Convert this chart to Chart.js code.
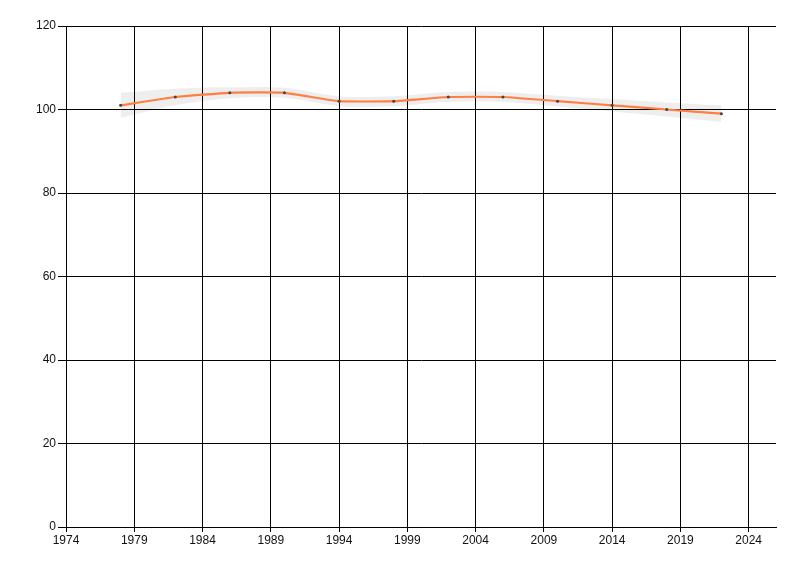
<!DOCTYPE html>
<html>
<head>
<meta charset="utf-8">
<script src="https://cdn.jsdelivr.net/npm/chart.js@4/dist/chart.umd.min.js"></script>
<style>
  html, body { margin: 0; padding: 0; background: #fff; }
  #wrap { position: relative; width: 800px; height: 576px; }
</style>
</head>
<body>
<div id="wrap"><canvas id="chart" width="800" height="576"></canvas></div>
<script>
const years = [1978, 1982, 1986, 1990, 1994, 1998, 2002, 2006, 2010, 2014, 2018, 2022];
const values = [101, 103, 104, 104, 102, 102, 103, 103, 102, 101, 100, 99];
const upper = [104, 105, 105.3, 105.2, 103.2, 103.2, 104.2, 104.2, 103.3, 102.5, 101.7, 101];
const lower = [98, 101, 102.7, 102.8, 100.8, 100.8, 101.8, 101.8, 100.7, 99.5, 98.3, 97];
const xTicks = [1974, 1979, 1984, 1989, 1994, 1999, 2004, 2009, 2014, 2019, 2024];
const yTicks = [0, 20, 40, 60, 80, 100, 120];

const pts = arr => years.map((yr, i) => ({ x: yr, y: arr[i] }));

new Chart(document.getElementById('chart'), {
  type: 'line',
  data: {
    datasets: [
      {
        data: pts(upper),
        borderWidth: 0,
        pointRadius: 0,
        backgroundColor: 'rgba(0,0,0,0.065)',
        fill: '+1',
        tension: 0.35,
        order: 2
      },
      {
        data: pts(lower),
        borderWidth: 0,
        pointRadius: 0,
        backgroundColor: 'rgba(0,0,0,0.065)',
        fill: false,
        tension: 0.35,
        order: 3
      },
      {
        data: pts(values),
        borderColor: '#ff7f40',
        borderWidth: 2.2,
        pointRadius: 1.5,
        pointBackgroundColor: '#444',
        pointBorderWidth: 0,
        fill: false,
        tension: 0.15,
        order: 0
      }
    ]
  },
  options: {
    responsive: false,
    animation: false,
    layout: { padding: { top: 26, right: 24, left: 0, bottom: 0 } },
    plugins: { legend: { display: false }, tooltip: { enabled: false } },
    scales: {
      x: {
        type: 'linear',
        min: 1974,
        max: 2026,
        afterBuildTicks: ax => { ax.ticks = xTicks.map(v => ({ value: v })); },
        afterFit: ax => { ax.height = 49; },
        grid: { color: '#000', lineWidth: 1, tickLength: 5, tickColor: '#000' },
        border: { color: '#000', width: 1 },
        ticks: {
          color: '#111',
          font: { family: 'Liberation Sans', size: 12 },
          padding: 1,
          maxRotation: 0,
          autoSkip: false,
          callback: v => String(v)
        }
      },
      y: {
        min: 0,
        max: 120,
        afterBuildTicks: ax => { ax.ticks = yTicks.map(v => ({ value: v })); },
        afterFit: ax => { ax.width = 66; },
        grid: { color: '#000', lineWidth: 1, tickLength: 8, tickColor: '#000' },
        border: { color: '#000', width: 1 },
        ticks: {
          color: '#111',
          font: { family: 'Liberation Sans', size: 12 },
          padding: 2,
          callback: v => String(v)
        }
      }
    }
  }
});
</script>
</body>
</html>
